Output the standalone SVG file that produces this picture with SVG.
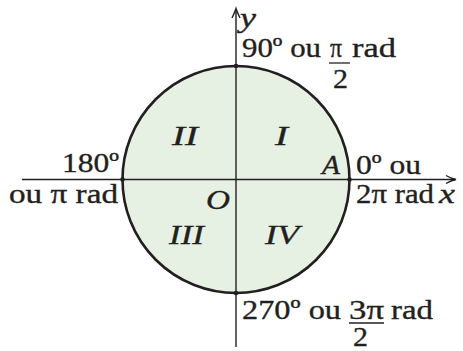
<svg xmlns="http://www.w3.org/2000/svg" width="463" height="351" viewBox="0 0 463 351">
<style>
text{font-family:"Liberation Serif","Times New Roman",serif;font-size:28px;fill:#231f20;stroke:#231f20;stroke-width:0.35}
.it{font-style:italic}
.ax{stroke:#231f20;stroke-width:1.4;fill:none}
.bar{stroke:#231f20;stroke-width:1.3}
.dot{fill:#231f20}
</style>
<rect width="463" height="351" fill="#ffffff"/>
<g id="circle">
<circle cx="236" cy="179.5" r="113.5" fill="#e6f1e3" stroke="#231f20" stroke-width="2.6"/>
</g>
<g id="axes">
<line class="ax" x1="22" y1="179.5" x2="455" y2="179.5"/>
<line class="ax" x1="236" y1="347" x2="236" y2="9"/>
<path class="ax" d="M232,18 Q235,12 236,8.5 Q237,12 240,18"/>
<path class="ax" d="M446,175.5 Q451,178.5 456,179.5 Q451,180.5 446,183.5"/>
</g>
<g id="points">
<circle class="dot" cx="236" cy="66" r="2.3"/>
<circle class="dot" cx="122.5" cy="179.5" r="2.3"/>
<circle class="dot" cx="349.5" cy="179.5" r="2.3"/>
<circle class="dot" cx="236" cy="293" r="2.3"/>
</g>
<g id="quadrants">
<text class="it" x="172" y="145" textLength="26" lengthAdjust="spacingAndGlyphs">II</text>
<text class="it" x="275" y="145" textLength="13" lengthAdjust="spacingAndGlyphs">I</text>
<text class="it" x="206" y="209" textLength="24" lengthAdjust="spacingAndGlyphs">O</text>
<text class="it" x="169" y="244" textLength="35" lengthAdjust="spacingAndGlyphs">III</text>
<text class="it" x="265" y="244" textLength="34" lengthAdjust="spacingAndGlyphs">IV</text>
<text class="it" x="322" y="174" textLength="18" lengthAdjust="spacingAndGlyphs">A</text>
</g>
<g id="label-y">
<text class="it" x="240" y="27" textLength="16" lengthAdjust="spacingAndGlyphs">y</text>
</g>
<g id="label-90">
<text x="242" y="57" textLength="79" lengthAdjust="spacingAndGlyphs">90º ou</text>
<text x="330" y="57" textLength="12" lengthAdjust="spacingAndGlyphs">π</text>
<line class="bar" x1="329" y1="63" x2="350" y2="63"/>
<text x="333" y="88" textLength="15" lengthAdjust="spacingAndGlyphs">2</text>
<text x="352" y="57" textLength="44" lengthAdjust="spacingAndGlyphs">rad</text>
</g>
<g id="label-180">
<text x="62" y="172" textLength="57" lengthAdjust="spacingAndGlyphs">180º</text>
<text x="9" y="203" textLength="109" lengthAdjust="spacingAndGlyphs">ou π rad</text>
</g>
<g id="label-0">
<text x="356" y="174" textLength="65" lengthAdjust="spacingAndGlyphs">0º ou</text>
<text x="356" y="203" textLength="78" lengthAdjust="spacingAndGlyphs">2π rad</text>
<text class="it" x="439" y="203" textLength="16" lengthAdjust="spacingAndGlyphs">x</text>
</g>
<g id="label-270">
<text x="242" y="319" textLength="99" lengthAdjust="spacingAndGlyphs">270º ou</text>
<text x="349" y="319" textLength="35" lengthAdjust="spacingAndGlyphs">3π</text>
<line class="bar" x1="349" y1="323" x2="384" y2="323"/>
<text x="353" y="346" textLength="15" lengthAdjust="spacingAndGlyphs">2</text>
<text x="391" y="319" textLength="42" lengthAdjust="spacingAndGlyphs">rad</text>
</g>
</svg>
